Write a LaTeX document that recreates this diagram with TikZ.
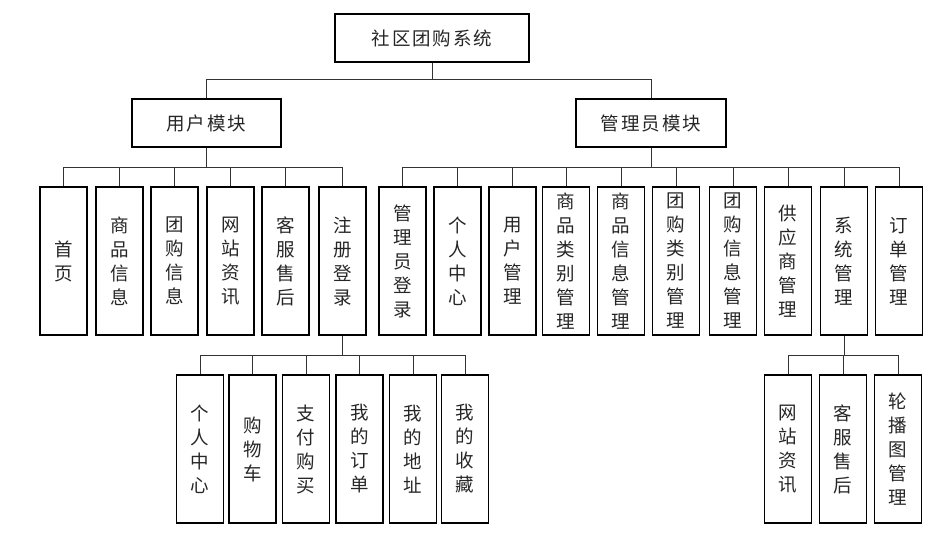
\documentclass[tikz,border=0pt]{standalone}
\usepackage{fontspec}
\newfontfamily\cjk{Noto Sans CJK SC}
\newcommand{\ks}{\kern2pt}
\begin{document}
\begin{tikzpicture}[x=1pt,y=-1pt,
  every node/.style={font=\cjk\fontsize{18.5}{24}\selectfont, text=black!85},
  hbox/.style={draw, line width=1.1pt, minimum height=48pt, inner sep=0pt},
  vbox/.style={draw, line width=1.1pt, minimum width=47pt, minimum height=148pt, inner sep=0pt, align=center},
  conn/.style={line width=0.8pt, draw=black!80}]
\useasboundingbox (0,0) rectangle (946,552);
\node[hbox, minimum width=194pt] (root) at (432,38) {社\ks 区\ks 团\ks 购\ks 系\ks 统};
\node[hbox, minimum width=149pt] (user) at (206.5,123) {用\ks 户\ks 模\ks 块};
\node[hbox, minimum width=150pt] (admin) at (651,123) {管\ks 理\ks 员\ks 模\ks 块};

\node[vbox] (u1) at (63.5,261) {首\\页};
\node[vbox] (u2) at (119.5,261) {商\\品\\信\\息};
\node[vbox] (u3) at (174.5,261) {团\\购\\信\\息};
\node[vbox] (u4) at (230.5,261) {网\\站\\资\\讯};
\node[vbox] (u5) at (285.5,261) {客\\服\\售\\后};
\node[vbox] (u6) at (342.5,261) {注\\册\\登\\录};

\node[vbox] (a1) at (402.5,261) {管\\理\\员\\登\\录};
\node[vbox] (a2) at (457.5,261) {个\\人\\中\\心};
\node[vbox] (a3) at (512.5,261) {用\\户\\管\\理};
\node[vbox] (a4) at (566,261) {商\\品\\类\\别\\管\\理};
\node[vbox] (a5) at (621,261) {商\\品\\信\\息\\管\\理};
\node[vbox] (a6) at (676,261) {团\\购\\类\\别\\管\\理};
\node[vbox] (a7) at (733,261) {团\\购\\信\\息\\管\\理};
\node[vbox] (a8) at (788,261) {供\\应\\商\\管\\理};
\node[vbox] (a9) at (844,261) {系\\统\\管\\理};
\node[vbox] (a10) at (899,261) {订\\单\\管\\理};

\node[vbox] (s1) at (200,449) {个\\人\\中\\心};
\node[vbox] (s2) at (252.5,449) {购\\物\\车};
\node[vbox] (s3) at (306,449) {支\\付\\购\\买};
\node[vbox] (s4) at (359.5,449) {我\\的\\订\\单};
\node[vbox] (s5) at (413,449) {我\\的\\地\\址};
\node[vbox] (s6) at (465,449) {我\\的\\收\\藏};

\node[vbox] (t1) at (788,449) {网\\站\\资\\讯};
\node[vbox] (t2) at (843,449) {客\\服\\售\\后};
\node[vbox] (t3) at (898,449) {轮\\播\\图\\管\\理};

\coordinate (b1) at (432,79);
\coordinate (b2) at (206.5,167);
\coordinate (b3) at (651,167);
\coordinate (b4) at (342.5,355);
\coordinate (b5) at (844,355);

\draw[conn] (root.south) -- (b1);
\draw[conn] (b1) -| (user.north);
\draw[conn] (b1) -| (admin.north);
\draw[conn] (user.south) -- (b2);
\foreach \c in {u1,u2,u3,u4,u5,u6} \draw[conn] (b2) -| (\c.north);
\draw[conn] (admin.south) -- (b3);
\foreach \c in {a1,a2,a3,a4,a5,a6,a7,a8,a9,a10} \draw[conn] (b3) -| (\c.north);
\draw[conn] (u6.south) -- (b4);
\foreach \c in {s1,s2,s3,s4,s5,s6} \draw[conn] (b4) -| (\c.north);
\draw[conn] (a9.south) -- (b5);
\foreach \c in {t1,t2,t3} \draw[conn] (b5) -| (\c.north);
\end{tikzpicture}
\end{document}
